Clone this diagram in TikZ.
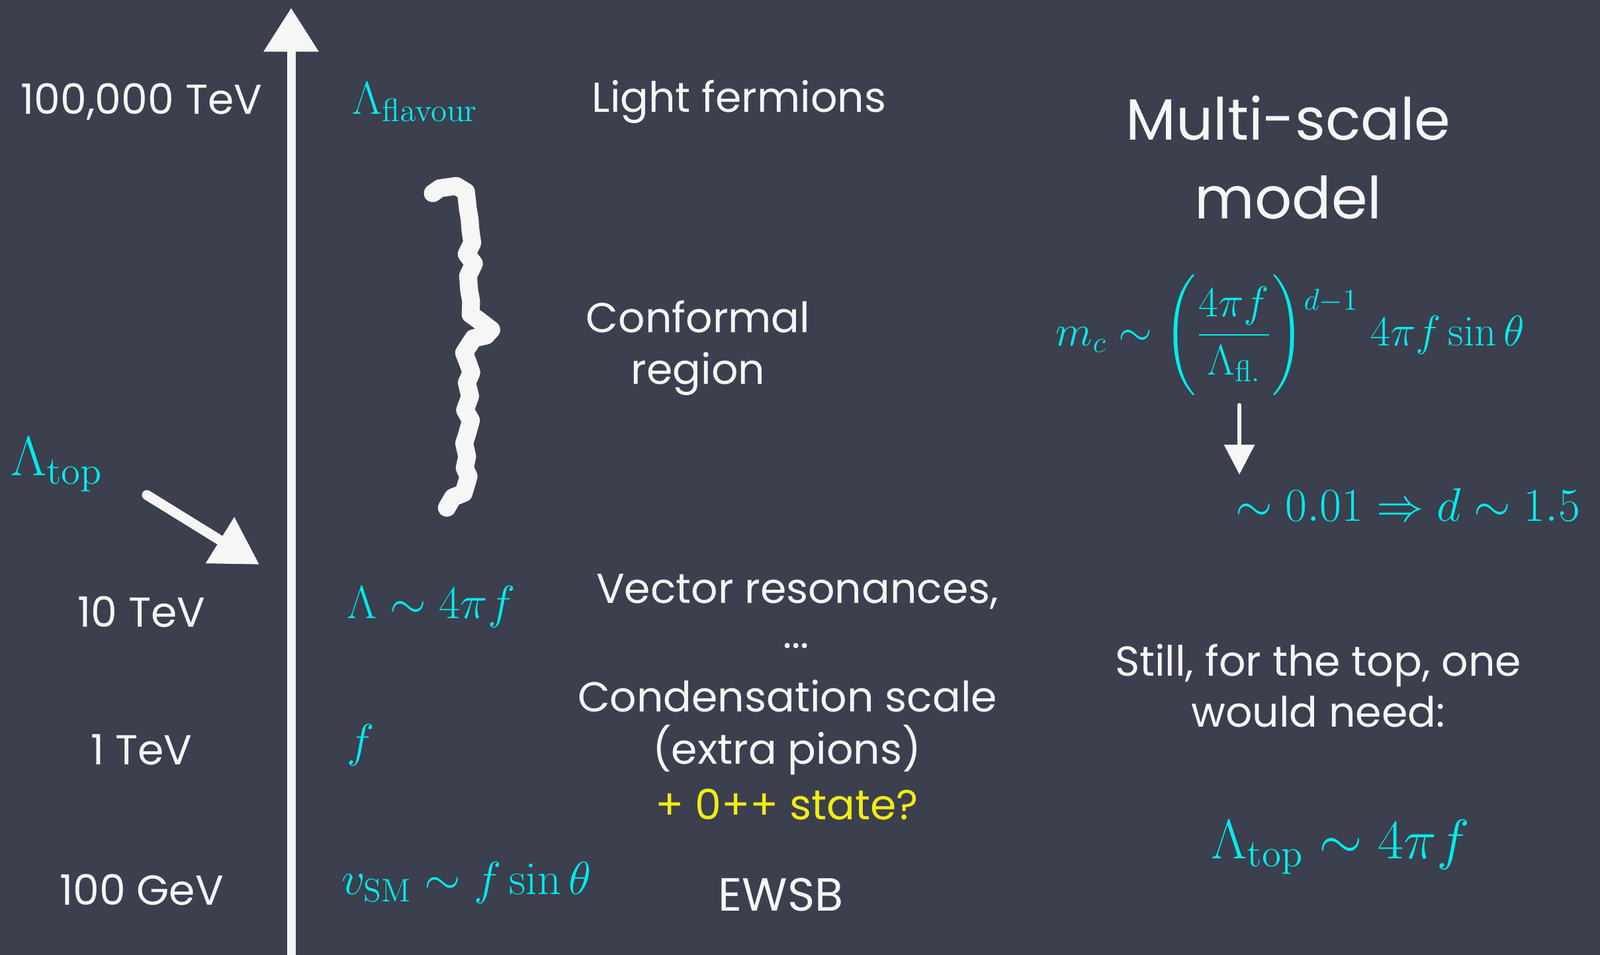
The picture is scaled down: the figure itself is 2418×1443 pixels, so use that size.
\documentclass[tikz,border=0pt]{standalone}
\usepackage{fix-cm}
\usepackage{amsmath}
\usepackage[no-math]{fontspec}
\setmainfont{Poppins}
\usetikzlibrary{arrows.meta,decorations.pathmorphing}
\definecolor{board}{RGB}{59,63,78}
\definecolor{chalk}{RGB}{246,246,246}
\definecolor{chalkcyan}{RGB}{0,236,236}
\definecolor{chalkyellow}{RGB}{240,236,20}

\begin{document}
\begin{tikzpicture}[x=0.01cm,y=-0.01cm,
  every node/.style={font=\fontsize{18}{22}\selectfont,text=chalk},
  formula/.style={text=chalkcyan,font=\fontsize{20}{24}\selectfont},
  chalkarrow/.style={draw=chalk,line cap=round},
  brace/.style={draw=chalk,line width=0.27cm,line cap=round,line join=round,decorate,
    decoration={random steps,segment length=5pt,amplitude=1.8pt}}]
\fill[board] (0,0) rectangle (2418,1443);
\useasboundingbox (0,0) rectangle (2418,1443);
\foreach \y/\t/\n in {154/{100,000 TeV}/a,925/{10 TeV}/b,1133/{1 TeV}/c,1345/{100 GeV}/d}{\node (scale\n) at (214,\y) {\t};}
\coordinate (axbot) at (440,1443);
\coordinate (axtop) at (440,12);
\draw[chalkarrow,line width=0.13cm,-{Triangle[width=0.8cm,length=0.66cm]}] (axbot)--(axtop);
\node[formula,anchor=west] (lamfl) at (520,154) {$\Lambda_{\rm flavour}$};
\node (light) at (1117,154) {Light fermions};
\node[font=\fontsize{25}{34}\selectfont,align=center] (multi) at (1947,238) {Multi-scale\\model};
\draw[brace] (654,292) .. controls (690,274) and (708,290) .. (708,330) -- (712,455) .. controls (714,478) and (728,488) .. (744,496) .. controls (726,504) and (712,516) .. (708,548) -- (706,690) .. controls (706,728) and (694,752) .. (674,766);
\node[align=center] (conf) at (1055,526) {Conformal\\region};
\node[formula,anchor=west,font=\fontsize{24}{28}\selectfont] (lamtop) at (4,702) {$\Lambda_{\rm top}$};
\coordinate (topstart) at (222,748);
\coordinate (toptip) at (392,853);
\draw[chalkarrow,line width=0.15cm,-{Triangle[width=0.78cm,length=0.7cm]}] (topstart)--(toptip);
\node[formula,anchor=west] (lamfour) at (512,917) {$\Lambda\sim 4\pi f$};
\node (vector) at (1205,894) {Vector resonances,};
\node (dots) at (1203,976) {...};
\node (cond) at (1190,1052) {Condensation scale};
\node (pions) at (1189,1133) {(extra pions)};
\node[text=chalkyellow] (zeropp) at (1189,1216) {+ 0++ state?};
\node[formula,anchor=west] (ef) at (512,1126) {$f$};
\node[formula,anchor=west] (vsm) at (504,1334) {$v_{\rm SM}\sim f\sin\theta$};
\node[font=\fontsize{20}{24}\selectfont] (ewsb) at (1180,1352) {EWSB};
\node[formula,font=\fontsize{18.5}{22}\selectfont] (mc) at (1950,506) {$\displaystyle m_c\sim\Biggl(\frac{4\pi f}{\Lambda_{\rm fl.}}\Biggr)^{\raisebox{-1.2ex}{$\scriptstyle d-1$}}\;4\pi f\sin\theta$};
\coordinate (dstart) at (1873,612);
\coordinate (dend) at (1873,717);
\draw[chalkarrow,line width=0.06cm,-{Triangle[width=0.45cm,length=0.45cm]}] (dstart)--(dend);
\node[formula,anchor=west,font=\fontsize{20.3}{24}\selectfont] (res) at (1855,763) {$\sim 0.01\Rightarrow d\sim 1.5$};
\node[align=center] (still) at (1992,1036) {Still, for the top, one\\would need:};
\node[formula,font=\fontsize{24}{28}\selectfont] (ltop) at (2026,1280) {$\Lambda_{\rm top}\sim 4\pi f$};
\end{tikzpicture}
\end{document}
